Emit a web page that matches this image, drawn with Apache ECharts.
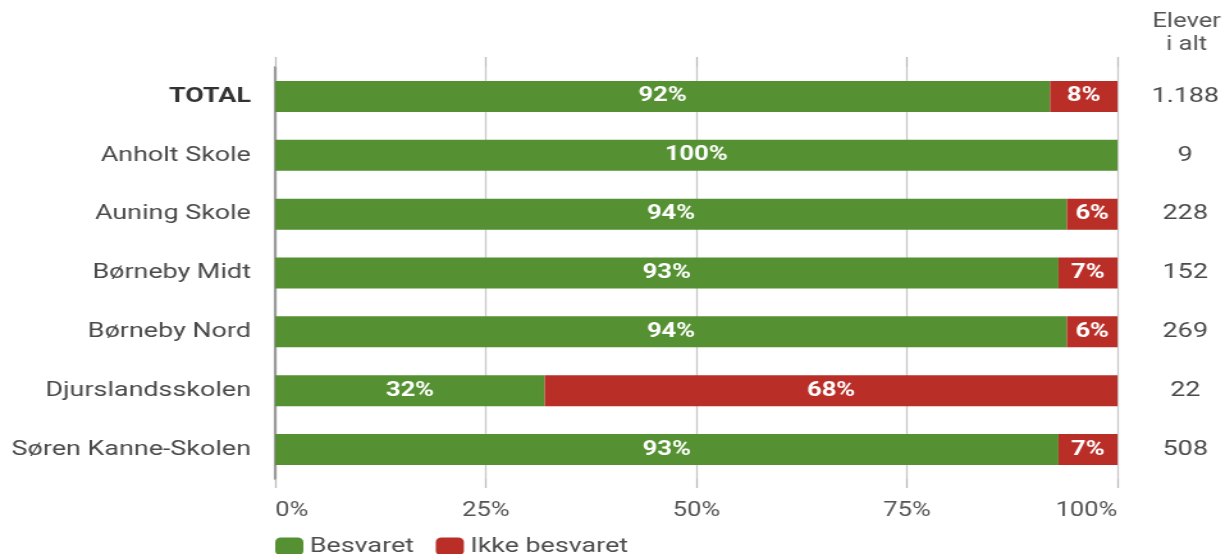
<!DOCTYPE html>
<html><head><meta charset="utf-8">
<script src="https://cdn.jsdelivr.net/npm/echarts@6/dist/echarts.min.js"></script>
<style>html,body{margin:0;padding:0;background:#fff;overflow:hidden}
#c{width:960px;height:554px;transform:scaleX(1.28);transform-origin:0 0}</style>
</head><body><div id="c"></div>
<script>
const categories = ['TOTAL','Anholt Skole','Auning Skole','Børneby Midt','Børneby Nord','Djurslandsskolen','Søren Kanne-Skolen'];
const besvaret = [92,100,94,93,94,32,93];
const ikkeBesvaret = [8,0,6,7,6,68,7];
const elever = ['1.188','9','228','152','269','22','508'];
const xTicks = [0,25,50,75,100];

const chart = echarts.init(document.getElementById('c'));
const font = 'Roboto, "Noto Sans", sans-serif';
const lbl = {show:true, position:'inside', color:'#fff', fontSize:20, fontWeight:'bold', fontFamily:font,
  formatter: p => p.value > 0 ? p.value + '%' : ''};
chart.setOption({
  animation:false,
  textStyle:{fontFamily:font},
  grid:{left:215, right:87, top:67, bottom:75},
  legend:{left:210, top:531, itemWidth:22, itemHeight:18, itemGap:17, icon:'roundRect',
    textStyle:{fontSize:21, color:'#4d4d4d', fontFamily:font},
    data:['Besvaret','Ikke besvaret']},
  xAxis:[{type:'value', min:xTicks[0], max:xTicks[xTicks.length-1], interval:25, position:'bottom',
    axisLine:{show:false},
    axisTick:{show:true, length:9, lineStyle:{color:'#bbb', width:1.3}},
    splitLine:{show:true, lineStyle:{color:'#c8c8c8', width:1.3}},
    axisLabel:{formatter:v=>v+'%', fontSize:20, color:'#555', margin:22, alignMinLabel:'left', alignMaxLabel:'right'}},
    {type:'value', min:xTicks[0], max:xTicks[xTicks.length-1], interval:25, position:'top',
    axisLine:{show:false}, axisLabel:{show:false}, splitLine:{show:false},
    axisTick:{show:true, length:10, lineStyle:{color:'#bbb', width:1.3}}}],
  yAxis:[{type:'category', data:categories, inverse:true,
    axisLine:{show:true, lineStyle:{color:'#9a9a9a', width:2.2}},
    axisTick:{show:false},
    axisLabel:{fontSize:21, color:'#4a4a4a', margin:19,
      formatter:(v,i)=> i===0 ? '{b|'+v+'}' : v,
      rich:{b:{fontWeight:'bold', color:'#333', fontSize:21, fontFamily:font}}}},
    {type:'category', data:elever, inverse:true, position:'right',
    axisLine:{show:false}, axisTick:{show:false},
    axisLabel:{fontSize:21, color:'#4a4a4a', margin:53, align:'center'}}],
  graphic:[{type:'text', x:927, y:10, style:{text:'Elever\ni alt', align:'center', fill:'#555', font:'20px Roboto', lineHeight:23}}],
  series:[
    {name:'Besvaret', type:'bar', stack:'s', data:besvaret, barWidth:31, itemStyle:{color:'#559132'}, label:lbl},
    {name:'Ikke besvaret', type:'bar', stack:'s', data:ikkeBesvaret, barWidth:31, itemStyle:{color:'#b92f28'}, label:lbl}
  ]
});
</script></body></html>
